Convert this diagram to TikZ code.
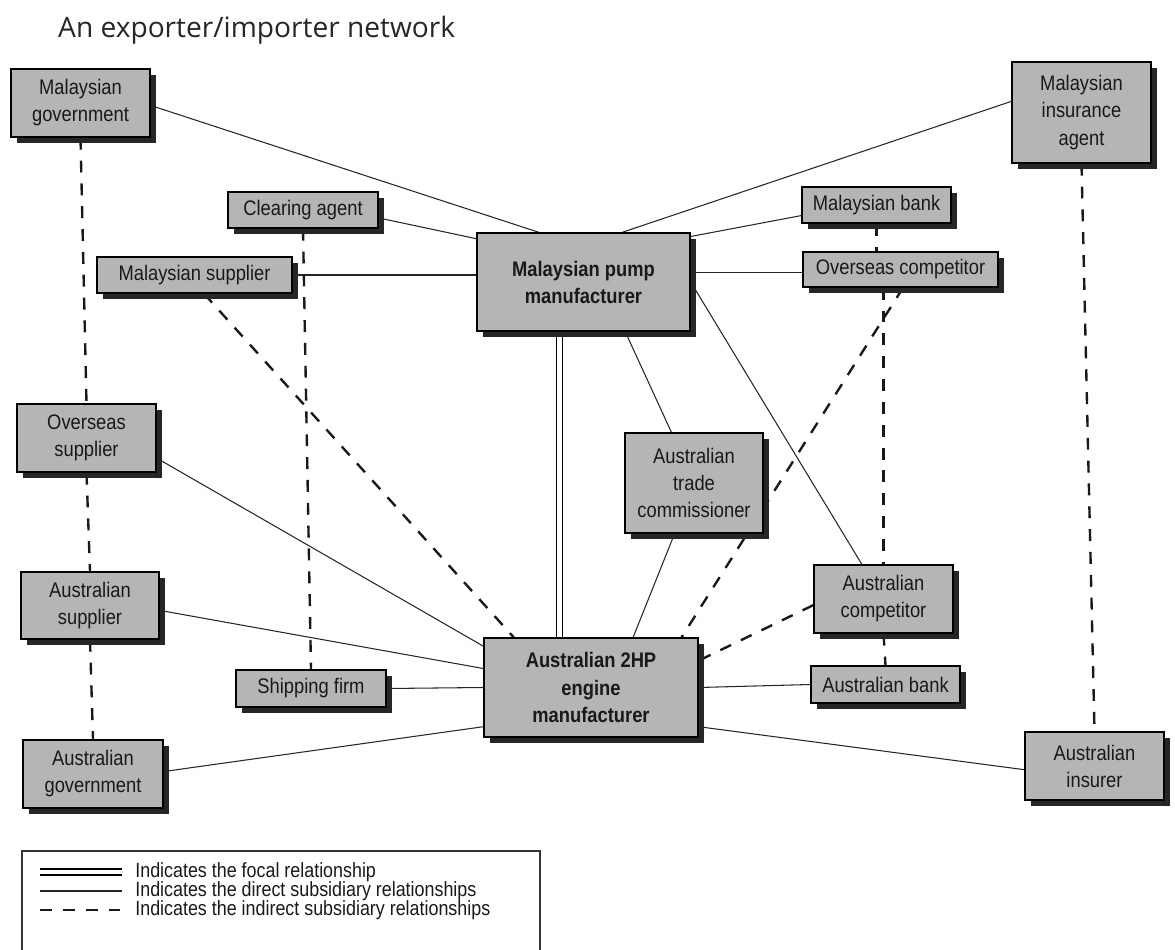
\documentclass[tikz,border=0pt]{standalone}
\usepackage{fontspec}
\usepackage{tikz}
\usetikzlibrary{calc,shadows,backgrounds}
\newfontfamily\boxfont[FakeStretch=0.87]{Liberation Sans}
\newfontfamily\titlefont{Open Sans}

\tikzset{
  actor/.style={draw=black, line width=0.8pt, fill=black!29, text=black!90,
    inner sep=0pt, align=center, font=\boxfont\fontsize{12}{15.4}\selectfont,
    drop shadow={shadow xshift=0.12cm, shadow yshift=-0.12cm, fill=black!85, opacity=1}},
  focalactor/.style={actor, font=\boxfont\bfseries\fontsize{12}{15.4}\selectfont},
  direct/.style={line width=0.6pt, draw=black!85},
  indirect/.style={line width=1.35pt, draw=black!90, dash pattern=on 6.8pt off 6.2pt},
  focal/.style={draw=black, line width=0.8pt, double=white, double distance=2.4pt},
  legendtext/.style={anchor=west, inner sep=0pt, text=black!90, font=\boxfont\fontsize{11.7}{14}\selectfont}
}

\begin{document}
\begin{tikzpicture}
      \useasboundingbox (0, 0) rectangle (23.5, 18.98);

      \node[anchor=base west, text=black!85, font=\titlefont\fontsize{16}{19}\selectfont] (title) at (1.04, 18.22) {An exporter/importer network};

      \node[actor, minimum width=2.78cm, minimum height=1.36cm] (mgov) at (1.61, 16.92) {Malaysian\\government};
      \node[actor, minimum width=3cm, minimum height=0.72cm] (clear) at (6.06, 14.78) {Clearing agent};
      \node[actor, minimum width=3.9cm, minimum height=0.72cm] (msup) at (3.89, 13.48) {Malaysian supplier};
      \node[focalactor, minimum width=4.26cm, minimum height=1.96cm] (pump) at (11.67, 13.34) {Malaysian pump\\manufacturer};
      \node[actor, minimum width=2.78cm, minimum height=2.02cm] (minsag) at (21.63, 16.73) {Malaysian\\insurance\\agent};
      \node[actor, minimum width=2.98cm, minimum height=0.72cm] (mbank) at (17.53, 14.88) {Malaysian bank};
      \node[actor, minimum width=3.9cm, minimum height=0.7cm] (ocomp) at (18.01, 13.59) {Overseas competitor};

      \node[actor, minimum width=2.78cm, minimum height=1.36cm] (osup) at (1.73, 10.22) {Overseas\\supplier};
      \node[actor, minimum width=2.76cm, minimum height=2cm] (trade) at (13.88, 9.32) {Australian\\trade\\commissioner};
      \node[actor, minimum width=2.76cm, minimum height=1.34cm] (asup) at (1.8, 6.87) {Australian\\supplier};
      \node[actor, minimum width=2.78cm, minimum height=1.36cm] (acomp) at (17.67, 7) {Australian\\competitor};
      \node[actor, minimum width=3cm, minimum height=0.74cm] (ship) at (6.22, 5.21) {Shipping firm};
      \node[focalactor, minimum width=4.28cm, minimum height=1.98cm] (eng) at (11.82, 5.23) {Australian 2HP\\engine\\manufacturer};
      \node[actor, minimum width=2.98cm, minimum height=0.74cm] (abank) at (17.71, 5.29) {Australian bank};
      \node[actor, minimum width=2.8cm, minimum height=1.36cm] (agov) at (1.86, 3.5) {Australian\\government};
      \node[actor, minimum width=2.78cm, minimum height=1.36cm] (ains) at (21.89, 3.66) {Australian\\insurer};

      \begin{scope}[on background layer]
      \draw[direct] (mgov.-2.5) -- (pump.132);
      \draw[direct] (clear.-6.5) -- (pump.158);
      \draw[direct] (msup.east) -- (msup.east -| pump.west);
      \draw[direct] (pump.52) -- (minsag.171);
      \draw[direct] (pump.23) -- (mbank.-172);
      \draw[direct] (pump.5) -- (pump.5 -| ocomp.west);
      \draw[direct] (pump.-50) -- (trade.114);
      \draw[direct] (pump.0) -- (acomp.122);
      \draw[direct] (trade.-111) -- (eng.50);
      \draw[direct] (osup.-16) -- (eng.159);
      \draw[direct] (asup.-4) -- (eng.170);
      \draw[direct] (ship.east) -- (eng.west);
      \draw[direct] (agov.2.5) -- (eng.-160);
      \draw[direct] (eng.east) -- (abank.west);
      \draw[direct] (eng.-20) -- (ains.-177);

      \draw[focal] ($(pump.south)+(-0.48, 0)$) -- ($(eng.north)+(-0.63, 0)$);

      \draw[indirect] (mgov.south) -- (osup.north);
      \draw[indirect] (osup.south) -- (asup.north);
      \draw[indirect] (asup.south) -- (agov.north);
      \draw[indirect] (clear.south) -- (ship.north);
      \draw[indirect] (msup.-63) -- (eng.147);
      \draw[indirect] (mbank.south) -- (mbank.south |- ocomp.north);
      \draw[indirect] (ocomp.south -| acomp.north) -- (acomp.north);
      \draw[indirect] (acomp.south) -- (abank.north);
      \draw[indirect] (minsag.south) -- (ains.north);
      \draw[indirect] (ocomp.-82) -- (eng.29);
      \draw[indirect] (acomp.-175) -- (eng.14);
      \end{scope}

      \draw[line width=0.6pt, draw=black!80] (0.44, 1.96) rectangle (10.8, -0.5);

      \coordinate (focala) at (0.8, 1.54);
      \coordinate (focalb) at (2.44, 1.54);
      \coordinate (directa) at (0.8, 1.16);
      \coordinate (directb) at (2.44, 1.16);
      \coordinate (indirecta) at (0.8, 0.78);
      \coordinate (indirectb) at (2.44, 0.78);

      \draw[focal] (focala) -- (focalb);
      \draw[direct] (directa) -- (directb);
      \draw[indirect] (indirecta) -- (indirectb);

      \node[legendtext] (lfocal) at (2.7, 1.54) {Indicates the focal relationship};
      \node[legendtext] (ldirect) at (2.7, 1.16) {Indicates the direct subsidiary relationships};
      \node[legendtext] (lindirect) at (2.7, 0.78) {Indicates the indirect subsidiary relationships};
\end{tikzpicture}
\end{document}
